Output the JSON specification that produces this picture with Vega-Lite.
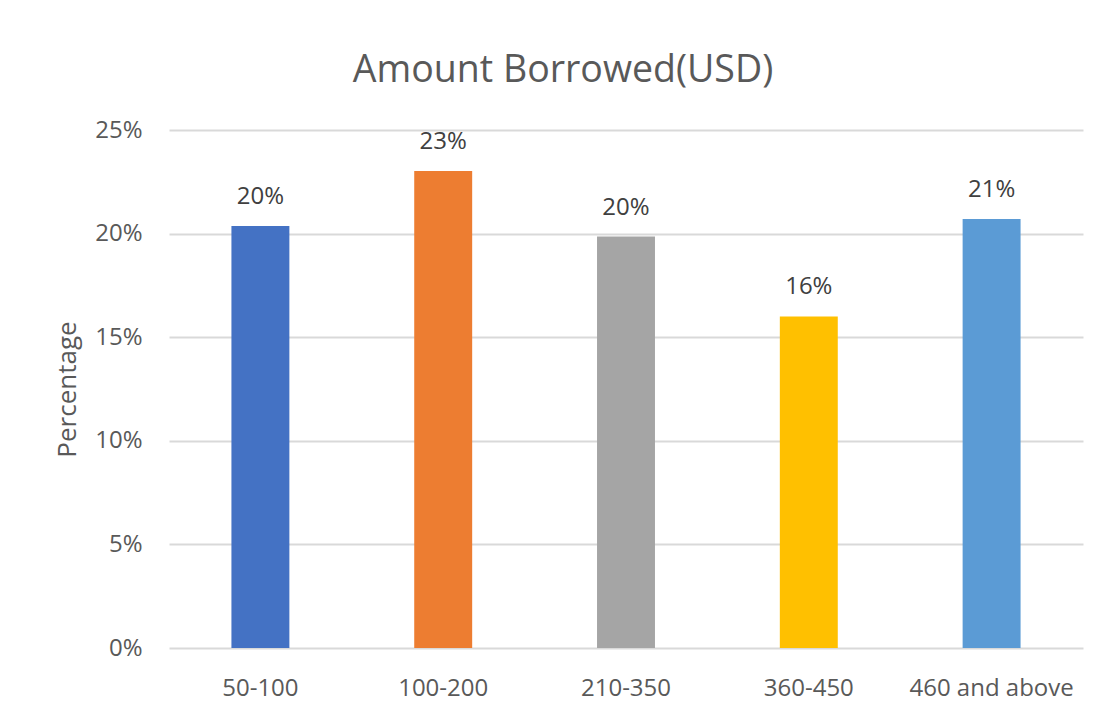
{
  "$schema": "https://vega.github.io/schema/vega-lite/v6.json",
  "autosize": "none",
  "width": 914,
  "height": 518,
  "padding": {"left": 169, "top": 130, "right": 34, "bottom": 72},
  "background": "white",
  "title": {
    "text": "Amount Borrowed(USD)",
    "font": "Open Sans",
    "fontSize": 37.5,
    "fontWeight": "normal",
    "color": "#595959",
    "anchor": "middle",
    "frame": "group",
    "baseline": "alphabetic",
    "offset": -1,
    "dx": -63
  },
  "data": {
    "values": [
      {"range": "50-100", "share": 0.2037},
      {"range": "100-200", "share": 0.2302},
      {"range": "210-350", "share": 0.1986},
      {"range": "360-450", "share": 0.1600},
      {"range": "460 and above", "share": 0.2071}
    ]
  },
  "encoding": {
    "x": {
      "field": "range",
      "type": "nominal",
      "sort": null,
      "title": null,
      "scale": {"paddingInner": 0.683, "paddingOuter": 0.3415},
      "axis": {
        "labelAngle": 0,
        "labelFont": "Open Sans",
        "labelFontSize": 24,
        "labelColor": "#595959",
        "labelBaseline": "alphabetic",
        "labelPadding": 47,
        "ticks": false,
        "tickSize": 0,
        "domain": false,
        "grid": false
      }
    },
    "y": {
      "field": "share",
      "type": "quantitative",
      "title": "Percentage",
      "scale": {"domain": [0, 0.25], "nice": false},
      "axis": {
        "values": [0, 0.05, 0.1, 0.15, 0.2, 0.25],
        "format": ".0%",
        "labelFont": "Open Sans",
        "labelFontSize": 24,
        "labelColor": "#595959",
        "labelPadding": 27,
        "ticks": false,
        "tickSize": 0,
        "domain": false,
        "grid": true,
        "gridColor": "#D9D9D9",
        "gridWidth": 2,
        "titleFont": "Open Sans",
        "titleFontSize": 26,
        "titleFontWeight": "normal",
        "titleColor": "#595959",
        "titlePadding": 14
      }
    }
  },
  "layer": [
    {
      "mark": {"type": "bar"},
      "encoding": {
        "color": {
          "field": "range",
          "type": "nominal",
          "sort": null,
          "legend": null,
          "scale": {
            "domain": ["50-100", "100-200", "210-350", "360-450", "460 and above"],
            "range": ["#4472C4", "#ED7D31", "#A5A5A5", "#FFC000", "#5B9BD5"]
          }
        }
      }
    },
    {
      "mark": {
        "type": "text",
        "font": "Open Sans",
        "fontSize": 24,
        "color": "#404040",
        "baseline": "alphabetic",
        "dy": -22
      },
      "encoding": {
        "text": {"field": "share", "type": "quantitative", "format": ".0%"}
      }
    }
  ],
  "config": {
    "view": {"stroke": null}
  }
}
